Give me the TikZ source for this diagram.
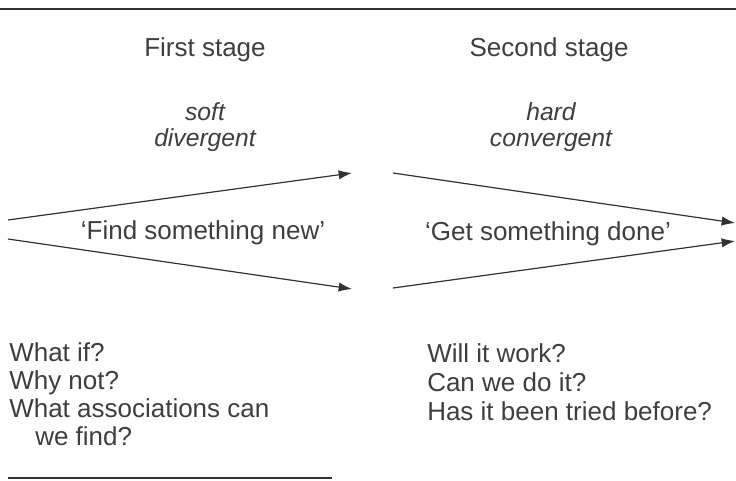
\documentclass[tikz,border=0pt]{standalone}
\usepackage{fontspec}
\setmainfont{Liberation Sans}
\usetikzlibrary{arrows.meta}
\definecolor{ink}{RGB}{62,62,62}
\definecolor{rule}{RGB}{50,50,50}

\begin{document}
\begin{tikzpicture}[
  x=0.75pt, y=-0.75pt,
  font=\fontsize{19.5pt}{22.5pt}\selectfont,
  >={Latex[length=10pt,width=7pt]},
  txt/.style={inner sep=0pt, text=ink, anchor=base},
  lst/.style={inner sep=0pt, text=ink, anchor=base west},
  emph/.style={txt, font=\fontsize{18.5pt}{21pt}\selectfont\itshape},
  flow/.style={->, rule, line width=0.9pt},
]
\useasboundingbox (0,0) rectangle (736,481);

% ---- rules top and bottom ----
\draw[rule, line width=1.6pt] (0,9) -- (736,9);
\draw[rule, line width=1.4pt] (8,478) -- (332,478);

% ---- stage headings ----
\node[txt] (S1) at (205,57) {First stage};
\node[txt] (S2) at (549,57) {Second stage};
\node[emph] (soft) at (205,121) {soft};
\node[emph] (div) at (205,147) {divergent};
\node[emph] (hard) at (551,121) {hard};
\node[emph] (conv) at (551,147) {convergent};

% ---- the two fans ----
\coordinate (a0) at (8,220);   \coordinate (a1) at (352,173);
\coordinate (b0) at (8,239);   \coordinate (b1) at (352,289);
\coordinate (c0) at (393,173); \coordinate (c1) at (735,223);
\coordinate (d0) at (393,288); \coordinate (d1) at (735,241);
\draw[flow] (a0) -- (a1);
\draw[flow] (b0) -- (b1);
\draw[flow] (c0) -- (c1);
\draw[flow] (d0) -- (d1);

\node[txt] (new) at (203,240) {`Find something new'};
\node[txt] (done) at (548,241) {`Get something done'};

% ---- questions ----
\node[lst] (q1) at (9,361) {What if?};
\node[lst] (q2) at (9,389) {Why not?};
\node[lst] (q3) at (9,417) {What associations can};
\node[lst] (q4) at (35,445) {we find?};

\node[lst] (r1) at (427,362) {Will it work?};
\node[lst] (r2) at (427,391) {Can we do it?};
\node[lst] (r3) at (427,420) {Has it been tried before?};

\end{tikzpicture}
\end{document}
